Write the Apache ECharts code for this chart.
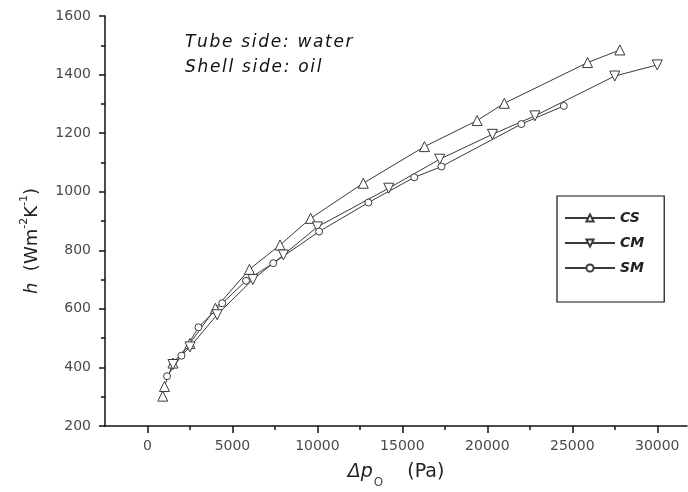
<!DOCTYPE html>
<html>
<head>
<meta charset="utf-8">
<script src="https://cdn.jsdelivr.net/npm/echarts@6/dist/echarts.min.js"></script>
<style>html,body{margin:0;padding:0;background:#fff}#c{width:688px;height:492px}</style>
</head>
<body>
<div id="c"></div>
<script>
const csX = [900, 1000, 1500, 2500, 4000, 6000, 7800, 9600, 12700, 16300, 19400, 21000, 25900, 27800];
const csY = [302, 335, 415, 482, 602, 735, 818, 909, 1029, 1154, 1243, 1302, 1441, 1484];
const cmX = [1500, 2500, 4100, 6200, 8000, 10000, 14200, 17200, 20300, 22800, 27500, 30000];
const cmY = [410, 470, 580, 700, 784, 880, 1012, 1111, 1196, 1259, 1395, 1433];
const smX = [1150, 2000, 3000, 4400, 5800, 7400, 10100, 13000, 15700, 17300, 22000, 24500];
const smY = [370, 440, 537, 619, 696, 756, 864, 963, 1049, 1086, 1231, 1293];
const xMajorTicks = [0, 5000, 10000, 15000, 20000, 25000, 30000];
const xMinorTicks = [2500, 7500, 12500, 17500, 22500, 27500];
const seriesNames = ['CS', 'CM', 'SM'];
const notes = ['Tube side: water', 'Shell side: oil'];

const zip = (a, b) => a.map((v, i) => [v, b[i]]);
const spaced = s => s.split('').join('\u200A');
const font = 'DejaVu Sans, sans-serif';
const lineColor = '#3a3a3a';
const axisColor = '#111';
const labelColor = '#4a4a4a';

const chart = echarts.init(document.getElementById('c'), null, {renderer: 'canvas'});
const xBase = {
  type: 'value', min: -2500, max: 31750, position: 'bottom',
  splitLine: {show: false}
};
chart.setOption({
  animation: false,
  backgroundColor: '#fff',
  grid: {left: 105, top: 16, right: 1, bottom: 66, containLabel: false, outerBoundsMode: 'none'},
  xAxis: [
    Object.assign({}, xBase, {
      axisLine: {show: true, onZero: false, lineStyle: {color: axisColor, width: 1.5}},
      axisTick: {show: true, length: 7, inside: false, customValues: xMajorTicks, lineStyle: {color: axisColor, width: 1.5}},
      axisLabel: {show: true, customValues: xMajorTicks, formatter: v => String(v), color: labelColor, fontFamily: font, fontSize: 14, margin: 13},
      name: '{i|Δp}{sub|O}{n|    (Pa)}',
      nameLocation: 'middle',
      nameGap: 34,
      nameTextStyle: {
        rich: {
          i: {fontFamily: font, fontStyle: 'italic', fontSize: 19, color: '#222', verticalAlign: 'bottom', lineHeight: 22},
          sub: {fontFamily: font, fontSize: 12, color: '#444', verticalAlign: 'bottom', lineHeight: 14, padding: [0, 0, -7, 1]},
          n: {fontFamily: font, fontSize: 19, color: '#222', verticalAlign: 'bottom', lineHeight: 22}
        }
      }
    }),
    Object.assign({}, xBase, {
      axisLine: {show: false, onZero: false},
      axisTick: {show: true, length: 4, customValues: xMinorTicks, lineStyle: {color: axisColor, width: 1.5}},
      axisLabel: {show: false}
    })
  ],
  yAxis: {
    type: 'value', min: 200, max: 1600, interval: 200,
    axisLine: {show: true, onZero: false, lineStyle: {color: axisColor, width: 1.5}},
    axisTick: {show: true, length: 6, lineStyle: {color: axisColor, width: 1.5}},
    minorTick: {show: true, splitNumber: 2, length: 4, lineStyle: {color: axisColor, width: 1.5}},
    splitLine: {show: false},
    axisLabel: {color: labelColor, fontFamily: font, fontSize: 14, margin: 14, formatter: v => String(v)},
    name: '{i|h}{n|  (Wm}{sup|-2}{n|K}{sup|-1}{n|)}',
    nameLocation: 'middle',
    nameRotate: 90,
    nameGap: 64,
    nameTextStyle: {
      padding: [0, 40, 0, 0],
      rich: {
        i: {fontFamily: font, fontStyle: 'italic', fontSize: 18, color: '#222', verticalAlign: 'bottom', lineHeight: 22},
        n: {fontFamily: font, fontSize: 18, color: '#222', verticalAlign: 'bottom', lineHeight: 22},
        sup: {fontFamily: font, fontSize: 11, color: '#222', verticalAlign: 'top', lineHeight: 22, padding: [0, 0, 8, 0]}
      }
    }
  },
  legend: {
    show: true,
    orient: 'vertical',
    left: 557, top: 196,
    data: seriesNames,
    itemWidth: 50, itemHeight: 9,
    itemGap: 11,
    padding: [15, 20, 27, 7],
    borderColor: axisColor, borderWidth: 1.2,
    textStyle: {fontFamily: font, fontStyle: 'italic', fontWeight: 'bold', fontSize: 14, color: '#222'}
  },
  graphic: [
    {type: 'text', left: 185, top: 34, style: {text: spaced(notes[0]), fontFamily: font, fontStyle: 'italic', fontSize: 17, fill: '#111'}},
    {type: 'text', left: 185, top: 59, style: {text: spaced(notes[1]), fontFamily: font, fontStyle: 'italic', fontSize: 17, fill: '#111'}}
  ],
  series: [
    {
      name: seriesNames[0], type: 'line', data: zip(csX, csY),
      symbol: 'triangle', symbolSize: 10,
      lineStyle: {color: lineColor, width: 1},
      itemStyle: {color: '#fff', borderColor: lineColor, borderWidth: 1}
    },
    {
      name: seriesNames[1], type: 'line', data: zip(cmX, cmY),
      symbol: 'triangle', symbolSize: 10, symbolRotate: 180,
      lineStyle: {color: lineColor, width: 1},
      itemStyle: {color: '#fff', borderColor: lineColor, borderWidth: 1}
    },
    {
      name: seriesNames[2], type: 'line', data: zip(smX, smY),
      symbol: 'circle', symbolSize: 7,
      lineStyle: {color: lineColor, width: 1},
      itemStyle: {color: '#fff', borderColor: lineColor, borderWidth: 1}
    }
  ]
});
</script>
</body>
</html>
